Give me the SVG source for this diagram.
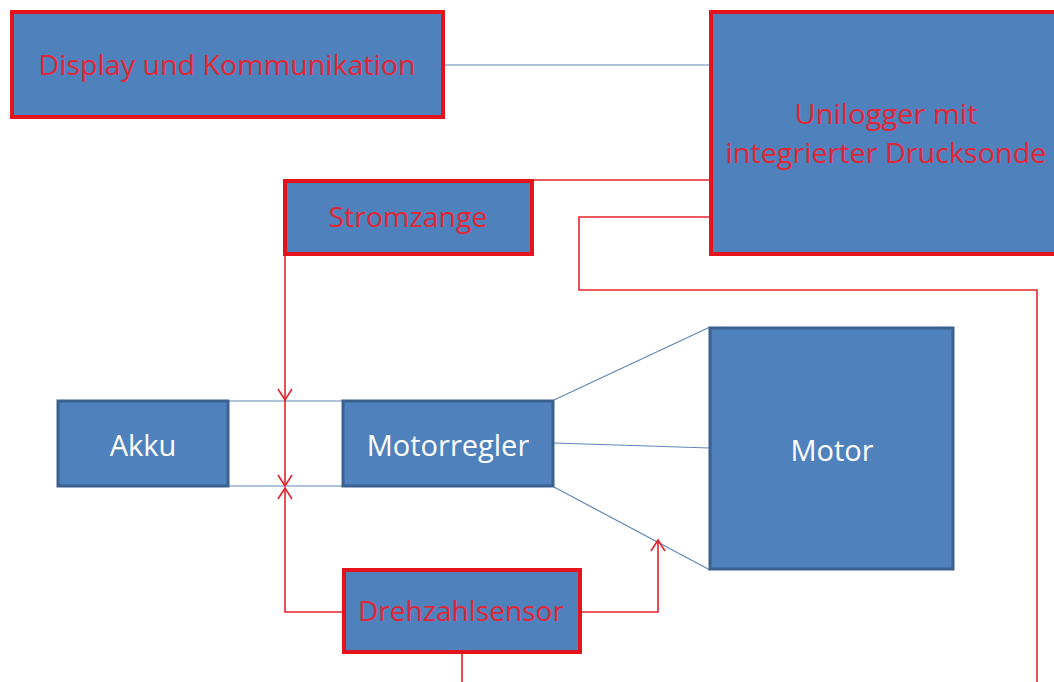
<svg xmlns="http://www.w3.org/2000/svg" width="1054" height="682" viewBox="0 0 1054 682">
<style>
.box{fill:#4f81bd}
.red{stroke:#e3141b;stroke-width:4}
.dark{stroke:#3b6190;stroke-width:3}
.rt{font-family:"Open Sans","Liberation Sans",sans-serif;font-size:27px;fill:#e32634;text-anchor:middle}
.wt{font-family:"Open Sans","Liberation Sans",sans-serif;font-size:29px;fill:#ffffff;text-anchor:middle}
.bl{stroke:#5f86b6;stroke-width:1.2;fill:none}
.rl{stroke:#e3242b;stroke-width:1.6;fill:none}
.ra{stroke:#e3242b;stroke-width:1.6;fill:none}
</style>
<rect width="1054" height="682" fill="#ffffff"/>
<g id="connectors">
<line class="bl" x1="445" y1="65" x2="710" y2="65"/>
<line class="bl" x1="229" y1="401" x2="343" y2="401"/>
<line class="bl" x1="229" y1="486" x2="343" y2="486"/>
<line class="bl" x1="554" y1="400" x2="710" y2="327"/>
<line class="bl" x1="554" y1="443" x2="710" y2="448"/>
<line class="bl" x1="554" y1="487" x2="710" y2="570"/>
<line class="rl" x1="533" y1="180" x2="710" y2="180"/>
<polyline class="rl" points="710,217 579,217 579,290 1037,290 1037,682"/>
<line class="rl" x1="285" y1="256" x2="285" y2="486"/>
<polyline class="ra" points="278,389 285,400 292,389"/>
<polyline class="ra" points="278,475 285,486 292,475"/>
<polyline class="rl" points="342,612 285,612 285,488"/>
<polyline class="ra" points="278,499 285,488 292,499"/>
<polyline class="rl" points="582,612 658,612 658,540"/>
<polyline class="ra" points="651,551 658,540 665,551"/>
<line class="rl" x1="462" y1="654" x2="462" y2="682"/>
</g>
<g id="display">
<rect class="box red" x="12" y="12" width="431" height="105"/>
<text class="rt" x="227" y="75" textLength="377" lengthAdjust="spacingAndGlyphs">Display und Kommunikation</text>
</g>
<g id="unilogger">
<rect class="box red" x="711" y="12" width="360" height="242"/>
<text class="rt" x="886" y="124" textLength="183" lengthAdjust="spacingAndGlyphs">Unilogger mit</text>
<text class="rt" x="886" y="163" textLength="321" lengthAdjust="spacingAndGlyphs">integrierter Drucksonde</text>
</g>
<g id="stromzange">
<rect class="box red" x="285" y="181" width="247" height="73"/>
<text class="rt" x="408" y="227" textLength="159" lengthAdjust="spacingAndGlyphs">Stromzange</text>
</g>
<g id="akku">
<rect class="box dark" x="58" y="401" width="170" height="85"/>
<text class="wt" x="143" y="456">Akku</text>
</g>
<g id="motorregler">
<rect class="box dark" x="343" y="401" width="210" height="85"/>
<text class="wt" x="448" y="456">Motorregler</text>
</g>
<g id="motor">
<rect class="box dark" x="710" y="328" width="243" height="241"/>
<text class="wt" x="832" y="461">Motor</text>
</g>
<g id="drehzahlsensor">
<rect class="box red" x="344" y="570" width="236" height="82"/>
<text class="rt" x="461" y="621" textLength="206" lengthAdjust="spacingAndGlyphs">Drehzahlsensor</text>
</g>
</svg>
